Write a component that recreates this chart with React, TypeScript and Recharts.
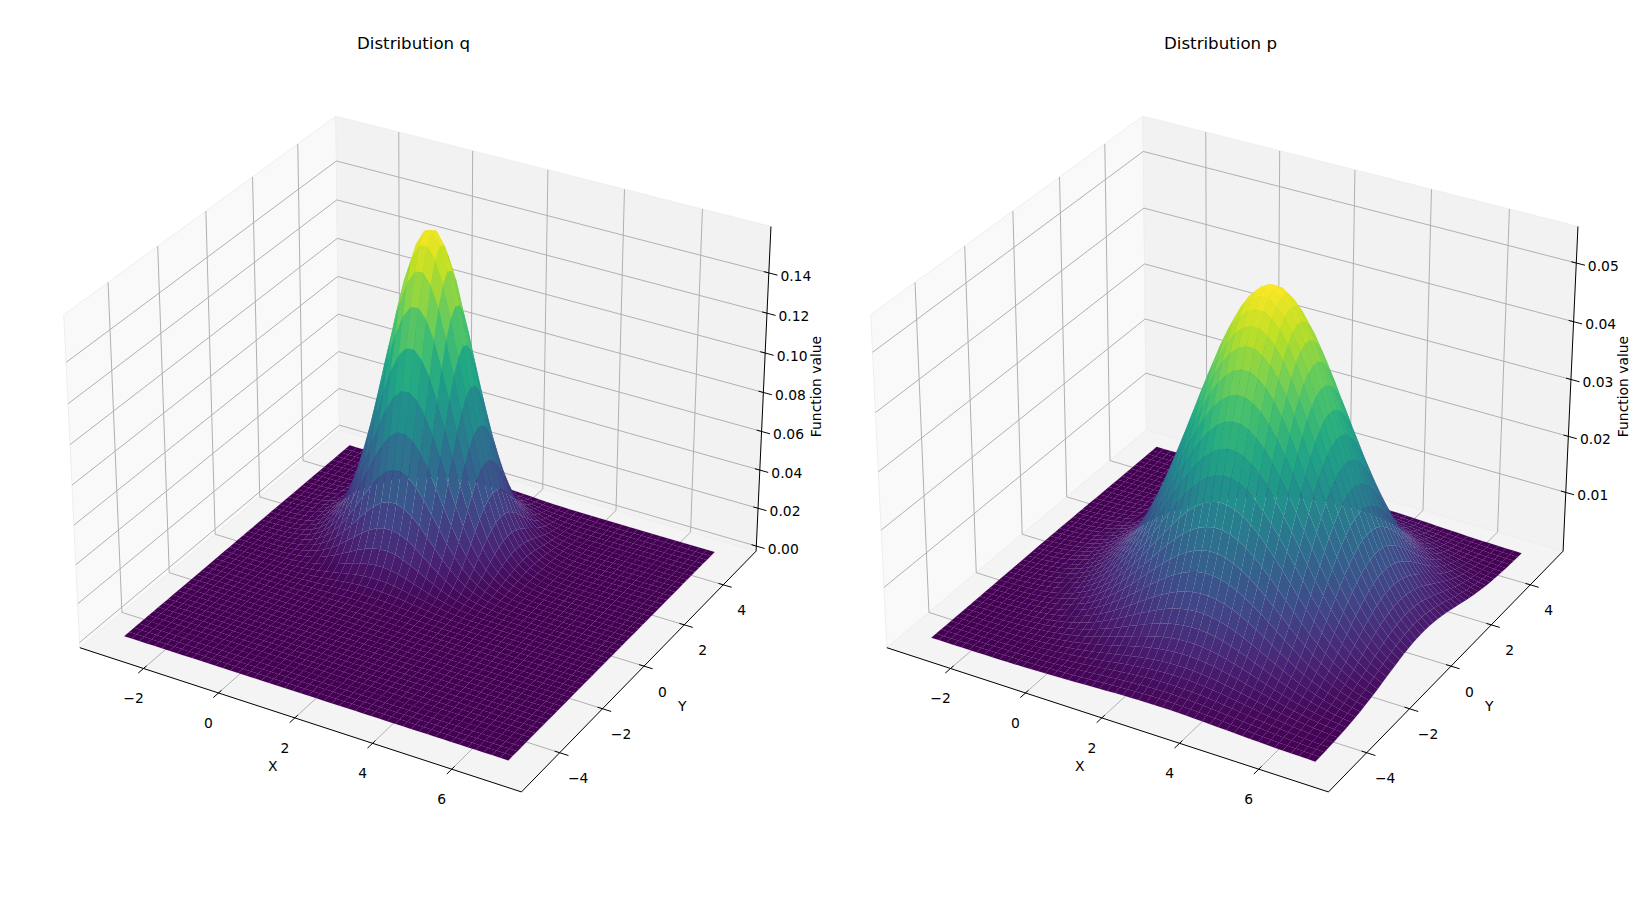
import React from "react";
import { ScatterChart, Scatter, XAxis, YAxis } from "recharts";

// mesh positions
const xGrid = [-3, -2.796, -2.592, -2.388, -2.184, -1.98, -1.776, -1.571, -1.367, -1.163, -0.959, -0.755, -0.551, -0.347, -0.143, 0.061, 0.265, 0.469, 0.673, 0.878, 1.082, 1.286, 1.49, 1.694, 1.898, 2.102, 2.306, 2.51, 2.714, 2.918, 3.122, 3.327, 3.531, 3.735, 3.939, 4.143, 4.347, 4.551, 4.755, 4.959, 5.163, 5.367, 5.571, 5.776, 5.98, 6.184, 6.388, 6.592, 6.796, 7];
const yGrid = [-5, -4.796, -4.592, -4.388, -4.184, -3.98, -3.776, -3.571, -3.367, -3.163, -2.959, -2.755, -2.551, -2.347, -2.143, -1.939, -1.735, -1.531, -1.327, -1.122, -0.918, -0.714, -0.51, -0.306, -0.102, 0.102, 0.306, 0.51, 0.714, 0.918, 1.122, 1.327, 1.531, 1.735, 1.939, 2.143, 2.347, 2.551, 2.755, 2.959, 3.163, 3.367, 3.571, 3.776, 3.98, 4.184, 4.388, 4.592, 4.796, 5];

// surface height read as peak value times a profile along x and along y
const qPeak = 0.1606;
const qAlongX = [0.0003, 0.0007, 0.0016, 0.0032, 0.0063, 0.0118, 0.0213, 0.0367, 0.0607, 0.0964, 0.147, 0.214, 0.3, 0.404, 0.52, 0.644, 0.763, 0.869, 0.948, 0.993, 0.997, 0.96, 0.887, 0.786, 0.668, 0.545, 0.426, 0.32, 0.23, 0.159, 0.105, 0.0668, 0.0407, 0.0238, 0.0133, 0.0072, 0.0037, 0.0018, 0.0009, 0.0004, 0.0002, 0.0001, 0, 0, 0, 0, 0, 0, 0, 0];
const qAlongY = [0, 0, 0, 0, 0, 0, 0, 0, 0, 0, 0, 0, 0, 0.0001, 0.0002, 0.0004, 0.0009, 0.002, 0.004, 0.0076, 0.0141, 0.0251, 0.0428, 0.07, 0.11, 0.165, 0.238, 0.329, 0.437, 0.557, 0.68, 0.797, 0.896, 0.965, 0.998, 0.99, 0.942, 0.859, 0.752, 0.632, 0.509, 0.393, 0.291, 0.207, 0.141, 0.092, 0.0578, 0.0347, 0.0201, 0.0111];
const pPeak = 0.0552;
const pAlongX = [0.0025, 0.0037, 0.0055, 0.0079, 0.0114, 0.016, 0.0223, 0.0307, 0.0416, 0.0558, 0.0733, 0.0951, 0.122, 0.154, 0.193, 0.237, 0.287, 0.344, 0.406, 0.472, 0.542, 0.613, 0.684, 0.752, 0.817, 0.874, 0.923, 0.961, 0.986, 0.999, 0.998, 0.982, 0.954, 0.914, 0.863, 0.804, 0.739, 0.67, 0.599, 0.527, 0.458, 0.393, 0.332, 0.277, 0.228, 0.185, 0.148, 0.116, 0.0907, 0.0695];
const pAlongY = [0.0158, 0.022, 0.0302, 0.0408, 0.055, 0.0718, 0.0941, 0.12, 0.152, 0.1888, 0.232, 0.2822, 0.3379, 0.3992, 0.4653, 0.5342, 0.6053, 0.6766, 0.7457, 0.8106, 0.869, 0.9185, 0.9575, 0.9845, 0.9983, 0.9983, 0.9845, 0.9575, 0.9185, 0.869, 0.8106, 0.7457, 0.6766, 0.6053, 0.5342, 0.4653, 0.3992, 0.3379, 0.2822, 0.232, 0.1888, 0.152, 0.12, 0.0941, 0.0718, 0.055, 0.0408, 0.0302, 0.022, 0.0158];

const xTicks = [-2, 0, 2, 4, 6];
const yTicks = [-4, -2, 0, 2, 4];
const qZTicks = [0, 0.02, 0.04, 0.06, 0.08, 0.1, 0.12, 0.14];
const pZTicks = [0.01, 0.02, 0.03, 0.04, 0.05];

const xLim = [-3.73, 7.73];
const yLim = [-5.73, 5.73];
const qZLim = [-0.0027, 0.1628];
const pZLim = [-0.00065, 0.05615];

const viridis = ["#440154", "#482475", "#414487", "#355f8d", "#2a788e", "#21918c", "#22a884", "#44bf70", "#7ad151", "#bddf26", "#fde725"];

const PANEL_W = 827.4;
const PANEL_H = 897;
const UNIT = 4250; // px per unit of the view plane
const OX = 424.2;
const OY = 437.8;
const FONT = "'DejaVu Sans', sans-serif";

function toColor(t: number) {
  const f = Math.min(Math.max(t, 0), 1) * (viridis.length - 1);
  const i = Math.min(Math.floor(f), viridis.length - 2);
  const hex = (s: string, k: number) => parseInt(s.slice(1 + k * 2, 3 + k * 2), 16);
  const ch = [0, 1, 2].map((k) => Math.round(hex(viridis[i], k) + (hex(viridis[i + 1], k) - hex(viridis[i], k)) * (f - i)));
  return `rgb(${ch[0]},${ch[1]},${ch[2]})`;
}

// same camera as a default mplot3d axes: elev 30, azim -60, box 4:4:3
function makeProject(zLim: number[]) {
  const bx = 1.1905;
  const bz = 0.8929;
  const ux = [0.866, 0.5, 0];
  const vx = [-0.25, 0.433, 0.866];
  const wx = [0.433, -0.75, 0.5];
  return (x: number, y: number, z: number) => {
    const a = ((x - xLim[0]) / (xLim[1] - xLim[0]) - 0.5) * bx;
    const b = ((y - yLim[0]) / (yLim[1] - yLim[0]) - 0.5) * bx;
    const c = ((z - zLim[0]) / (zLim[1] - zLim[0]) - 0.5) * bz;
    const depth = a * wx[0] + b * wx[1] + c * wx[2];
    const d = 10 - depth;
    return {
      sx: (a * ux[0] + b * ux[1]) / d,
      sy: (a * vx[0] + b * vx[1] + c * vx[2]) / d,
      depth,
    };
  };
}

function shapeItem(pts: { sx: number; sy: number }[]) {
  return { sx: pts[0].sx, sy: pts[0].sy, pts };
}

function buildFaces(peak: number, alongX: number[], alongY: number[], zLim: number[]) {
  const project = makeProject(zLim);
  const faces: any[] = [];
  const height = (i: number, j: number) => peak * alongX[i] * alongY[j];
  for (let i = 0; i < xGrid.length - 1; i++) {
    for (let j = 0; j < yGrid.length - 1; j++) {
      const corners = [
        project(xGrid[i], yGrid[j], height(i, j)),
        project(xGrid[i + 1], yGrid[j], height(i + 1, j)),
        project(xGrid[i + 1], yGrid[j + 1], height(i + 1, j + 1)),
        project(xGrid[i], yGrid[j + 1], height(i, j + 1)),
      ];
      const avg = (height(i, j) + height(i + 1, j) + height(i + 1, j + 1) + height(i, j + 1)) / 4;
      const depth = corners.reduce((s, c) => s + c.depth, 0) / 4;
      faces.push({ ...shapeItem(corners), depth, color: toColor(avg / peak) });
    }
  }
  faces.sort((m, n) => m.depth - n.depth);
  return faces;
}

const PolygonShape = (props: any) => {
  const { cx, cy, payload } = props;
  const pts = payload.pts
    .map((p: any) => `${(cx + (p.sx - payload.sx) * UNIT).toFixed(2)},${(cy - (p.sy - payload.sy) * UNIT).toFixed(2)}`)
    .join(" ");
  return <polygon points={pts} fill={payload.color} fillOpacity={1} stroke={payload.color} strokeWidth={0.07} />;
};

const PaneShape = (props: any) => {
  const { cx, cy, payload } = props;
  const pts = payload.pts
    .map((p: any) => `${cx + (p.sx - payload.sx) * UNIT},${cy - (p.sy - payload.sy) * UNIT}`)
    .join(" ");
  return <polygon points={pts} fill={payload.color} stroke="#eeeeee" strokeWidth={1} />;
};

const LineShape = (props: any) => {
  const { cx, cy, payload } = props;
  const pts = payload.pts
    .map((p: any) => `${cx + (p.sx - payload.sx) * UNIT},${cy - (p.sy - payload.sy) * UNIT}`)
    .join(" ");
  return <polyline points={pts} fill="none" stroke={payload.color} strokeWidth={payload.w} />;
};

const TextShape = (props: any) => {
  const { cx, cy, payload } = props;
  const px = cx + payload.dx;
  const py = cy + payload.dy;
  return (
    <text
      x={px}
      y={py}
      fontFamily={FONT}
      fontSize={payload.size}
      fill="#000"
      textAnchor="middle"
      dominantBaseline="central"
      transform={payload.rotate ? `rotate(${payload.rotate} ${px} ${py})` : undefined}
    >
      {payload.text}
    </text>
  );
};

const fmtTick = (v: number) => String(v).replace("-", "\u2212");

function Panel({ title, left, peak, alongX, alongY, zLim, zTicks }: any) {
  const project = makeProject(zLim);
  const [x0, x1] = xLim;
  const [y0, y1] = yLim;
  const [z0, z1] = zLim;
  const xOut = (x1 - x0) * 0.019;
  const xIn = (x1 - x0) * 0.011;
  const yOut = (y1 - y0) * 0.019;
  const yIn = (y1 - y0) * 0.011;

  const panes = [
    { ...shapeItem([project(x0, y0, z0), project(x0, y1, z0), project(x0, y1, z1), project(x0, y0, z1)]), color: "#f9f9f9" },
    { ...shapeItem([project(x0, y1, z0), project(x1, y1, z0), project(x1, y1, z1), project(x0, y1, z1)]), color: "#f2f2f2" },
    { ...shapeItem([project(x0, y0, z0), project(x1, y0, z0), project(x1, y1, z0), project(x0, y1, z0)]), color: "#f4f4f4" },
  ];

  const gridColor = "#b0b0b0";
  const grid = [
    ...xTicks.map((t) => ({ ...shapeItem([project(t, y0, z0), project(t, y1, z0), project(t, y1, z1)]), color: gridColor, w: 1 })),
    ...yTicks.map((t) => ({ ...shapeItem([project(x1, t, z0), project(x0, t, z0), project(x0, t, z1)]), color: gridColor, w: 1 })),
    ...zTicks.map((t: number) => ({ ...shapeItem([project(x0, y0, t), project(x0, y1, t), project(x1, y1, t)]), color: gridColor, w: 1 })),
  ];

  const axes = [
    { ...shapeItem([project(x0, y0, z0), project(x1, y0, z0)]), color: "#000", w: 1 },
    { ...shapeItem([project(x1, y0, z0), project(x1, y1, z0)]), color: "#000", w: 1 },
    { ...shapeItem([project(x1, y1, z0), project(x1, y1, z1)]), color: "#000", w: 1 },
    ...xTicks.map((t) => ({ ...shapeItem([project(t, y0 - yOut, z0), project(t, y0 + yIn, z0)]), color: "#000", w: 1 })),
    ...yTicks.map((t) => ({ ...shapeItem([project(x1 + xOut, t, z0), project(x1 - xIn, t, z0)]), color: "#000", w: 1 })),
    ...zTicks.map((t: number) => ({ ...shapeItem([project(x1 + xOut, y1, t), project(x1 - xIn, y1, t)]), color: "#000", w: 1 })),
  ];

  const faces = buildFaces(peak, alongX, alongY, zLim);

  const tickSize = 13.89;
  const labels = [
    ...xTicks.map((t) => ({ ...project(t, y0, z0), dx: -10, dy: 30, text: fmtTick(t), size: tickSize })),
    ...yTicks.map((t) => ({ ...project(x1, t, z0), dx: 18.5, dy: 25.5, text: fmtTick(t), size: tickSize })),
    ...zTicks.map((t: number) => ({ ...project(x1, y1, t), dx: 27, dy: 2.7, text: t.toFixed(2), size: tickSize })),
    { sx: (272.7 - OX) / UNIT, sy: (OY - 765.7) / UNIT, dx: 0, dy: 0, text: "X", size: tickSize },
    { sx: (682.3 - OX) / UNIT, sy: (OY - 705.8) / UNIT, dx: 0, dy: 0, text: "Y", size: tickSize },
    { sx: (816.2 - OX) / UNIT, sy: (OY - 386.5) / UNIT, dx: 0, dy: 0, text: "Function value", size: tickSize, rotate: -90 },
    { sx: (413.5 - OX) / UNIT, sy: (OY - 43.5) / UNIT, dx: 0, dy: 0, text: title, size: 16.67 },
  ];

  return (
    <div style={{ position: "absolute", left, top: 0, width: PANEL_W, height: PANEL_H }}>
      <ScatterChart width={PANEL_W} height={PANEL_H} margin={{ top: 0, right: 0, bottom: 0, left: 0 }}>
        <XAxis type="number" dataKey="sx" domain={[-OX / UNIT, (PANEL_W - OX) / UNIT]} allowDataOverflow hide />
        <YAxis type="number" dataKey="sy" domain={[(OY - PANEL_H) / UNIT, OY / UNIT]} allowDataOverflow hide />
        <Scatter data={panes} shape={PaneShape} isAnimationActive={false} />
        <Scatter data={grid} shape={LineShape} isAnimationActive={false} />
        <Scatter data={axes} shape={LineShape} isAnimationActive={false} />
        <Scatter data={faces} shape={PolygonShape} isAnimationActive={false} />
        <Scatter data={labels} shape={TextShape} isAnimationActive={false} />
      </ScatterChart>
    </div>
  );
}

export default function App() {
  return (
    <div style={{ position: "absolute", left: 0, top: 0, width: 1634, height: 897, background: "#fff", overflow: "hidden" }}>
      <Panel title="Distribution q" left={0} peak={qPeak} alongX={qAlongX} alongY={qAlongY} zLim={qZLim} zTicks={qZTicks} />
      <Panel title="Distribution p" left={806.6} peak={pPeak} alongX={pAlongX} alongY={pAlongY} zLim={pZLim} zTicks={pZTicks} />
    </div>
  );
}
